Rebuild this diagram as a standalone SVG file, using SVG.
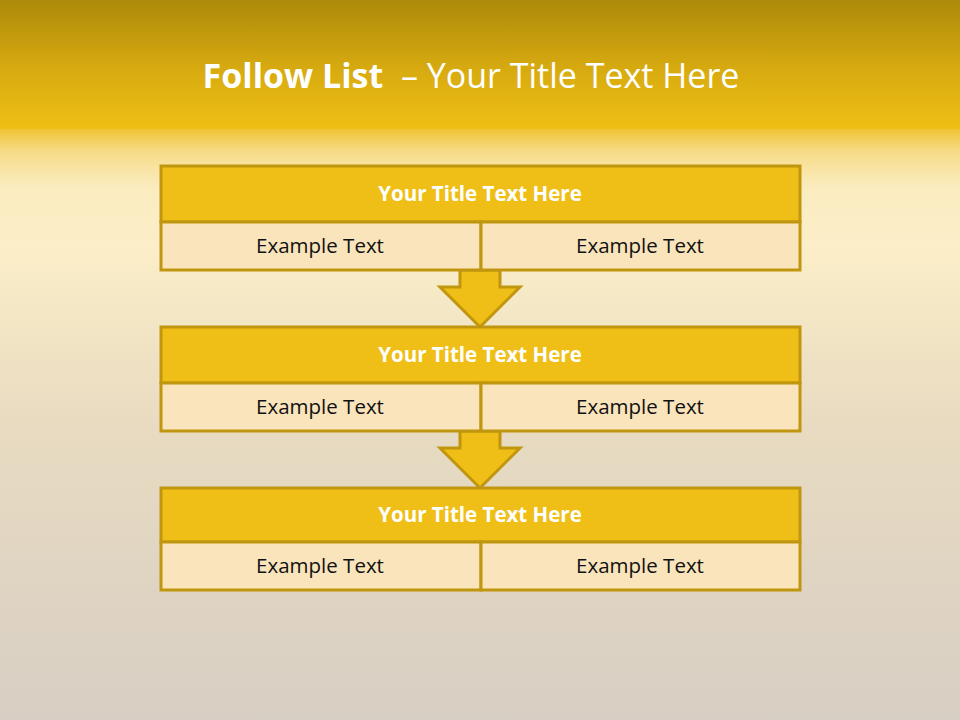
<svg xmlns="http://www.w3.org/2000/svg" width="960" height="720" viewBox="0 0 960 720">
<defs>
<linearGradient id="top" x1="0" y1="0" x2="0" y2="1">
<stop offset="0" stop-color="#ad8a0a"/>
<stop offset="0.55" stop-color="#d8ab10"/>
<stop offset="1" stop-color="#efbf14"/>
</linearGradient>
<linearGradient id="bg" gradientUnits="userSpaceOnUse" x1="0" y1="128" x2="0" y2="720">
<stop offset="0" stop-color="#f0c330"/>
<stop offset="0.04" stop-color="#f6dc88"/>
<stop offset="0.1" stop-color="#fbecc0"/>
<stop offset="0.2" stop-color="#fbeec8"/>
<stop offset="0.5" stop-color="#e8dbc1"/>
<stop offset="1" stop-color="#d8cfc4"/>
</linearGradient>
<style>
.hd{fill:#efbf17;stroke:#c0960e;stroke-width:3}
.cell{fill:#f9e4bb;stroke:#c0960e;stroke-width:3}
.ht{font-family:"Open Sans","Liberation Sans",sans-serif;font-weight:bold;font-size:20.5px;fill:#ffffff;text-anchor:middle}
.ct{font-family:"Open Sans","Liberation Sans",sans-serif;font-size:20.5px;fill:#111111;text-anchor:middle}
.arr{fill:#efbf17;stroke:#c0960e;stroke-width:3;stroke-linejoin:miter}
</style>
</defs>
<rect x="0" y="128" width="960" height="592" fill="url(#bg)"/>
<rect x="0" y="0" width="960" height="129" fill="url(#top)"/>
<text x="471" y="88" font-family="'Open Sans','Liberation Sans',sans-serif" font-size="34" fill="#ffffff" text-anchor="middle" xml:space="preserve"><tspan font-weight="bold">Follow List</tspan>  – Your Title Text Here</text>

<g id="connectors">
<path class="arr" d="M460,270 L500,270 L500,287 L520,287 L480,327 L440,287 L460,287 Z"/>
<path class="arr" d="M460,431 L500,431 L500,448 L520,448 L480,488 L440,448 L460,448 Z"/>
</g>

<g id="block1">
<rect class="hd" x="161" y="166" width="639" height="56"/>
<rect class="cell" x="161" y="222" width="320" height="48"/>
<rect class="cell" x="481" y="222" width="319" height="48"/>
<text class="ht" x="480" y="201">Your Title Text Here</text>
<text class="ct" x="320" y="253">Example Text</text>
<text class="ct" x="640" y="253">Example Text</text>
</g>
<g id="block2">
<rect class="hd" x="161" y="327" width="639" height="56"/>
<rect class="cell" x="161" y="383" width="320" height="48"/>
<rect class="cell" x="481" y="383" width="319" height="48"/>
<text class="ht" x="480" y="362">Your Title Text Here</text>
<text class="ct" x="320" y="414">Example Text</text>
<text class="ct" x="640" y="414">Example Text</text>
</g>
<g id="block3">
<rect class="hd" x="161" y="488" width="639" height="54"/>
<rect class="cell" x="161" y="542" width="320" height="48"/>
<rect class="cell" x="481" y="542" width="319" height="48"/>
<text class="ht" x="480" y="522">Your Title Text Here</text>
<text class="ct" x="320" y="573">Example Text</text>
<text class="ct" x="640" y="573">Example Text</text>
</g>
</svg>
